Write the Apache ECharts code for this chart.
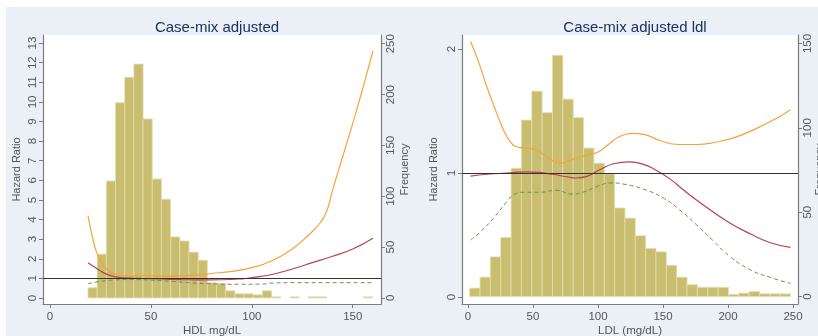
<!DOCTYPE html>
<html><head><meta charset="utf-8">
<script src="https://cdn.jsdelivr.net/npm/echarts@6/dist/echarts.min.js"></script>
<style>html,body{margin:0;padding:0;background:#fff;}#c{position:absolute;left:6px;top:7px;width:812px;height:329px;}</style>
</head><body><div id="c"></div>
<script>
// ---------- data: left panel (HDL) ----------
const hdlTitle = 'Case-mix adjusted';
const hdlBinEdges = [18.8,23.35,27.9,32.45,37.0,41.55,46.1,50.65,55.2,59.75,64.3,68.85,73.4,77.95,82.5,87.05,91.6,96.15,100.7,105.25,109.8,114.35,118.9,123.45,128.0,132.55,137.1,141.65,146.2,150.75,155.3,159.85];
const hdlFreq = [10,43,115,192,217,230,176,117,97,60,56,45,37,15,14,7,4,4,3,7,1,0,1,0,1,1,0,0,0,0,1];
const hdlUpper = [[18.8,4.2],[21,3.1],[23,2.35],[25.5,1.8],[28,1.48],[31,1.27],[34,1.17],[40,1.13],[50,1.14],[60,1.12],[70,1.15],[80,1.25],[90,1.36],[100,1.55],[110,1.9],[120,2.5],[128,3.2],[134,3.85],[137,4.4],[140,5.5],[145,7.2],[150,8.9],[155,10.7],[160,12.6]];
const hdlHR = [[18.8,1.8],[22,1.58],[25,1.38],[28,1.22],[32,1.09],[36,1.03],[45,1.0],[55,0.97],[65,0.94],[75,0.92],[85,0.93],[95,0.98],[100,1.04],[110,1.2],[120,1.48],[130,1.8],[140,2.13],[150,2.5],[160,3.05]];
const hdlLower = [[18.8,0.73],[25,0.85],[32,0.92],[40,0.94],[50,0.91],[60,0.85],[70,0.77],[80,0.72],[95,0.7],[105,0.71],[110,0.76],[120,0.78],[160,0.78]];
const hdlXTicks = [0,50,100,150];
const hdlHRTicks = [0,1,2,3,4,5,6,7,8,9,10,11,12,13];
const hdlFreqTicks = [0,50,100,150,200,250];

// ---------- data: right panel (LDL) ----------
const ldlTitle = 'Case-mix adjusted ldl';
const ldlBinEdges = [1.3,9.26,17.22,25.18,33.14,41.1,49.06,57.02,64.98,72.94,80.9,88.86,96.82,104.78,112.74,120.7,128.66,136.62,144.58,152.54,160.5,168.46,176.42,184.38,192.34,200.3,208.26,216.22,224.18,232.14,240.1,248.06];
const ldlFreq = [5,11.5,23.5,35,76,104.6,121.7,109,143,117,106,88,79,72.7,52.5,46.5,36,28.5,26.5,18.5,11.5,7,5.5,5.5,5.5,1.2,2,3,1.6,1.6,1.6];
const ldlUpper = [[2,2.06],[8,1.9],[14,1.71],[20,1.54],[26,1.38],[32,1.26],[38,1.21],[45,1.2],[52,1.19],[58,1.15],[65,1.1],[72,1.08],[80,1.11],[90,1.14],[100,1.17],[108,1.23],[116,1.29],[126,1.32],[136,1.31],[148,1.26],[162,1.23],[176,1.23],[191,1.25],[206,1.29],[222,1.36],[237,1.44],[248,1.51]];
const ldlHR = [[2,0.975],[15,0.99],[30,1.0],[45,1.01],[55,1.005],[65,0.99],[76,0.97],[83,0.96],[92,0.975],[102,1.03],[112,1.075],[124,1.09],[135,1.07],[145,1.02],[155,0.955],[165,0.87],[176,0.78],[188,0.69],[201,0.60],[217,0.51],[232,0.44],[248,0.40]];
const ldlLower = [[2,0.46],[10,0.53],[20,0.64],[30,0.77],[36,0.83],[44,0.845],[55,0.845],[68,0.86],[80,0.83],[90,0.85],[100,0.895],[110,0.92],[120,0.91],[135,0.87],[150,0.8],[162,0.71],[176,0.58],[188,0.46],[201,0.33],[217,0.22],[232,0.16],[248,0.11]];
const ldlXTicks = [0,50,100,150,200,250];
const ldlHRTicks = [0,1,2];
const ldlFreqTicks = [0,50,100,150];

// ---------- styling ----------
const FONT = 'Liberation Sans';
const AX = '#7c7c7c', LBL = '#555';
const BAR = '#c9bd6f', BARLINE = '#e4ddb0';
const C_UP = '#f4a23a', C_HR = '#b8405a', C_LO = '#6e8f52';

function hist(edges, freq) {
  return freq.map((f, i) => [edges[i], edges[i + 1], f]);
}
function histSeries(xi, yi, edges, freq) {
  return {
    type: 'custom', xAxisIndex: xi, yAxisIndex: yi, silent: true, z: 1,
    encode: { x: [0, 1], y: 2 },
    data: hist(edges, freq),
    renderItem: function (params, api) {
      const v = api.value(2);
      if (!v) return null;
      const p0 = api.coord([api.value(0), v]);
      const p1 = api.coord([api.value(1), 0]);
      return { type: 'rect', shape: { x: p0[0], y: p0[1], width: p1[0] - p0[0], height: p1[1] - p0[1] },
               style: { fill: BAR, stroke: BARLINE, lineWidth: 0.8 } };
    }
  };
}
function curve(xi, yi, data, color, dashed) {
  return { type: 'line', xAxisIndex: xi, yAxisIndex: yi, data: data, showSymbol: false, silent: true,
           smooth: 0.5, z: 3,
           lineStyle: { color: color, width: dashed ? 1 : 1.2, type: dashed ? [4, 3] : 'solid' } };
}
function refLine(xi, yi) {
  return { type: 'line', xAxisIndex: xi, yAxisIndex: yi, data: [], z: 4,
           markLine: { silent: true, symbol: ['none', 'none'], label: { show: false }, animation: false,
                       lineStyle: { color: '#333', width: 1.1, type: 'solid' }, data: [{ yAxis: 1 }] } };
}
function xAxis(gi, min, max, ticks, name) {
  return { type: 'value', gridIndex: gi, min: min, max: max, name: name, nameLocation: 'middle', nameGap: 21,
           nameMoveOverlap: false,
           nameTextStyle: { fontFamily: FONT, fontSize: 11.5, color: LBL },
           axisLine: { show: true, onZero: false, lineStyle: { color: AX, width: 1.2 } },
           axisTick: { show: true, length: 4, customValues: ticks, lineStyle: { color: AX } },
           axisLabel: { customValues: ticks, margin: 7, fontFamily: FONT, fontSize: 11.5, color: LBL },
           splitLine: { show: false } };
}
function yAxis(gi, pos, min, max, ticks, name, nameGap) {
  return { type: 'value', gridIndex: gi, position: pos, min: min, max: max, name: name, nameLocation: 'middle',
           nameGap: nameGap, nameRotate: 90,
           nameTextStyle: { fontFamily: FONT, fontSize: 11, color: LBL },
           axisLine: { show: true, onZero: false, lineStyle: { color: AX, width: 1.2 } },
           axisTick: { show: true, length: 4, customValues: ticks, lineStyle: { color: AX } },
           axisLabel: { customValues: ticks, rotate: 90, margin: 4, fontFamily: FONT, fontSize: 11.5, color: LBL },
           splitLine: { show: false } };
}

const chart = echarts.init(document.getElementById('c'), null, { renderer: 'canvas' });
chart.setOption({
  animation: false,
  backgroundColor: '#eaf0f6',
  title: [
    { text: hdlTitle, left: 206, top: 8, textAlign: 'center',
      textStyle: { fontFamily: FONT, fontSize: 15, fontWeight: 'normal', color: '#1f3060' } },
    { text: ldlTitle, left: 624, top: 8, textAlign: 'center',
      textStyle: { fontFamily: FONT, fontSize: 15, fontWeight: 'normal', color: '#1f3060' } }
  ],
  grid: [
    { left: 37, top: 28, width: 338, height: 269, show: true, backgroundColor: '#fff', borderWidth: 0, outerBoundsMode: 'none', containLabel: false },
    { left: 456, top: 28, width: 336, height: 269, show: true, backgroundColor: '#fff', borderWidth: 0, outerBoundsMode: 'none', containLabel: false }
  ],
  xAxis: [
    xAxis(0, -3.5, 164, hdlXTicks, 'HDL mg/dL'),
    xAxis(1, -4.6, 253.8, ldlXTicks, 'LDL (mg/dL)')
  ],
  yAxis: [
    yAxis(0, 'left', -0.306, 13.41, hdlHRTicks, 'Hazard Ratio', 21),
    yAxis(0, 'right', -6, 258.6, hdlFreqTicks, 'Frequency', 18),
    yAxis(1, 'left', -0.056, 2.113, ldlHRTicks, 'Hazard Ratio', 23),
    yAxis(1, 'right', -4.4, 155, ldlFreqTicks, 'Frequency', 14)
  ],
  series: [
    histSeries(0, 1, hdlBinEdges, hdlFreq),
    curve(0, 0, hdlLower, C_LO, true),
    curve(0, 0, hdlHR, C_HR, false),
    curve(0, 0, hdlUpper, C_UP, false),
    refLine(0, 0),
    histSeries(1, 3, ldlBinEdges, ldlFreq),
    curve(1, 2, ldlLower, C_LO, true),
    curve(1, 2, ldlHR, C_HR, false),
    curve(1, 2, ldlUpper, C_UP, false),
    refLine(1, 2)
  ]
});
</script>
</body></html>
